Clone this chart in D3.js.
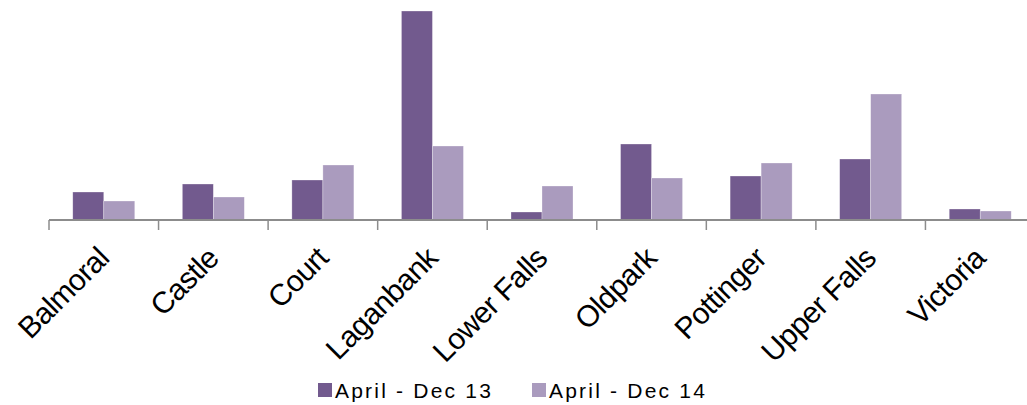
<!DOCTYPE html>
<html>
<head>
<meta charset="utf-8">
<script src="https://cdn.jsdelivr.net/npm/d3@7"></script>
<style>
  body { margin: 0; background: #fff; }
  svg { display: block; font-family: "Liberation Sans", Arial, sans-serif; }
</style>
</head>
<body>
<svg width="1027" height="405"></svg>
<script>
const categorias = ["Balmoral", "Castle", "Court", "Laganbank", "Lower Falls", "Oldpark", "Pottinger", "Upper Falls", "Victoria"];
const series = ["April - Dec 13", "April - Dec 14"];
const valores13 = [28, 36, 40, 209, 8, 76, 44, 61, 11];
const valores14 = [19, 23, 55, 74, 34, 42, 57, 126, 9];
const cores = ["#725a8e", "#aa9bbe"];

const svg = d3.select("svg");

const base = 220; // linha do eixo
const esq = 49;
const dir = 1035;

const dados = categorias.map((c, i) => ({ cat: c, v: [valores13[i], valores14[i]] }));

const x0 = d3.scaleBand()
    .domain(categorias)
    .range([esq, dir])
    .paddingInner(0.434)
    .paddingOuter(0.217);

const x1 = d3.scaleBand()
    .domain([0, 1])
    .range([0, x0.bandwidth()]);

const y = d3.scaleLinear()
    .domain([0, 220])
    .range([base, 0]);

// barras
const grupos = svg.append('g')
  .selectAll('g')
  .data(dados)
  .join('g')
    .attr('transform', d => `translate(${x0(d.cat)},0)`);

grupos.selectAll('rect')
  .data(d => d.v.map((v, k) => ({ k, v })))
  .join('rect')
    .attr('x', d => x1(d.k))
    .attr('y', d => y(d.v))
    .attr('width', x1.bandwidth())
    .attr('height', d => base - y(d.v))
    .attr('fill', d => cores[d.k])
    .attr('stroke', '#fff')
    .attr('stroke-opacity', 0.5)
    .attr('stroke-width', 0.6);

// eixo x com ticks entre as categorias
const eixo = svg.append('g');
eixo.append('line')
    .attr('x1', esq).attr('x2', dir)
    .attr('y1', base).attr('y2', base)
    .attr('stroke', '#8c8c8c')
    .attr('stroke-width', 2);

const passo = x0.step();
eixo.selectAll('line.tick')
  .data(d3.range(categorias.length + 1))
  .join('line')
    .attr('class', 'tick')
    .attr('x1', i => esq + i * passo)
    .attr('x2', i => esq + i * passo)
    .attr('y1', base)
    .attr('y2', base + 10)
    .attr('stroke', '#8c8c8c')
    .attr('stroke-width', 1.5);

eixo.selectAll('text')
  .data(categorias)
  .join('text')
    .attr('transform', d => `translate(${x0(d) + x0.bandwidth() / 2 + 7},${base + 40}) rotate(-45)`)
    .attr('text-anchor', 'end')
    .attr('font-size', 30)
    .attr('letter-spacing', -0.6)
    .attr('fill', '#000')
    .text(d => d);

// legenda
const legX = [318, 532];
const legenda = svg.append('g')
  .selectAll('g')
  .data(series)
  .join('g')
    .attr('transform', (d, i) => `translate(${legX[i]},383)`);

legenda.append('rect')
    .attr('width', 14)
    .attr('height', 14)
    .attr('fill', (d, i) => cores[i]);

legenda.append('text')
    .attr('x', 17)
    .attr('y', 14.5)
    .attr('font-size', 21)
    .attr('letter-spacing', 2.2)
    .attr('fill', '#000')
    .text(d => d);
</script>
</body>
</html>
